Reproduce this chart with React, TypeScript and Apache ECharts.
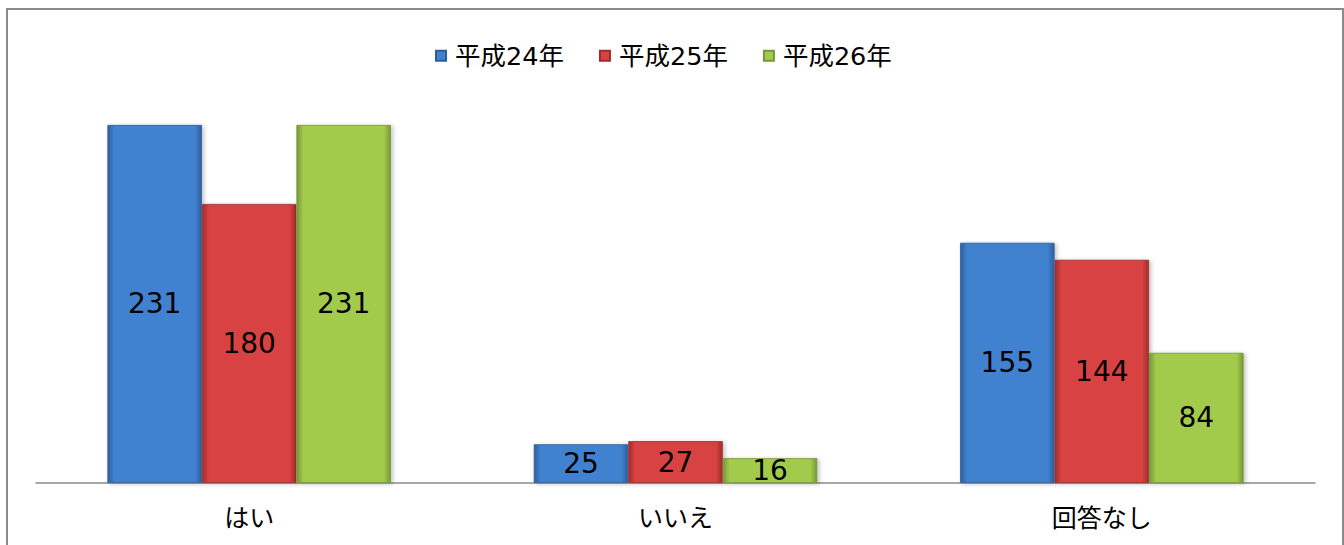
import React, { useEffect, useRef } from "react";
import * as echarts from "echarts";

const categories = ["はい", "いいえ", "回答なし"];
const seriesNames = ["平成24年", "平成25年", "平成26年"];
const values2012 = [231, 25, 155];
const values2013 = [180, 27, 144];
const values2014 = [231, 16, 84];
const palette = [
  { main: "#4181D0", dark: "#2C5E9C", light: "#6AA0E0" },
  { main: "#D84242", dark: "#A02C2C", light: "#E87070" },
  { main: "#A3CB4B", dark: "#76973A", light: "#C0DE78" },
];

function barColor(p: { main: string; dark: string; light: string }) {
  return new echarts.graphic.LinearGradient(0, 0, 1, 0, [
    { offset: 0, color: p.dark },
    { offset: 0.07, color: p.main },
    { offset: 0.93, color: p.main },
    { offset: 1, color: p.dark },
  ]);
}

export default function App() {
  const ref = useRef<HTMLDivElement>(null);
  useEffect(() => {
    if (!ref.current) return;
    const chart = echarts.init(ref.current, undefined, { renderer: "svg" });
    const all = [values2012, values2013, values2014];
    chart.setOption({
      animation: false,
      backgroundColor: "#ffffff",
      textStyle: { fontFamily: "DejaVu Sans, Noto Sans CJK JP" },
      graphic: [
        {
          type: "rect",
          shape: { x: 7, y: 9, width: 1336, height: 560 },
          style: { fill: "none", stroke: "#8a8a8a", lineWidth: 2 },
          silent: true,
        },
      ],
      legend: {
        top: 38,
        left: 430,
        icon: "rect",
        itemWidth: 10,
        itemHeight: 10,
        itemGap: 35,
        textStyle: {
          fontSize: 25.5,
          color: "#000",
          fontFamily: "DejaVu Sans, Noto Sans CJK JP",
          padding: [0, 0, 0, 4],
        },
        data: seriesNames,
      },
      grid: { left: 36, right: 29, top: 95.5, bottom: 62, containLabel: false },
      xAxis: {
        type: "category",
        data: categories,
        axisLine: { lineStyle: { color: "#8a8a8a", width: 1.5 } },
        axisTick: { show: false },
        axisLabel: {
          fontSize: 25,
          color: "#000",
          margin: 20,
          fontFamily: "Noto Sans CJK JP",
        },
      },
      yAxis: {
        type: "value",
        min: 0,
        max: 250,
        show: false,
        splitLine: { show: false },
      },
      series: seriesNames.map((name, i) => ({
        name,
        type: "bar",
        data: all[i],
        barGap: "0%",
        barCategoryGap: "33.5%",
        itemStyle: {
          color: barColor(palette[i]),
          borderColor: palette[i].dark,
          borderWidth: 0.8,
          shadowColor: "rgba(0,0,0,0.25)",
          shadowBlur: 4,
          shadowOffsetX: 2,
          shadowOffsetY: 1,
        },
        label: {
          show: true,
          position: "inside",
          fontSize: 28,
          color: "#000",
          fontFamily: "DejaVu Sans",
        },
      })),
    });
    return () => chart.dispose();
  }, []);
  return (
    <div
      ref={ref}
      style={{ position: "absolute", left: 0, top: 0, width: 1344, height: 545 }}
    />
  );
}
